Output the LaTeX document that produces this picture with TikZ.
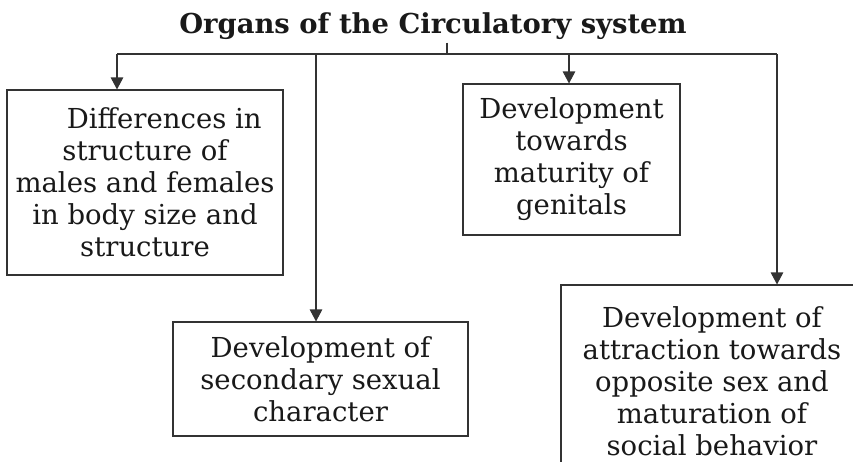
\documentclass[tikz,border=0pt]{standalone}
\usepackage{fontspec}
\setmainfont{DejaVu Serif}
\usetikzlibrary{arrows.meta}
\usetikzlibrary{calc}

\begin{document}
\begin{tikzpicture}[x=1pt, y=-1pt,
  box/.style={draw=black!80, line width=1.1pt, align=center, text=black!90, inner sep=0pt, font=\fontsize{27.5}{32}\selectfont},
  link/.style={draw=black!80, line width=1.1pt},
  arrowlink/.style={link, -{Triangle[length=12pt, width=12.5pt]}}]

\clip (0, 0) rectangle (853, 461);

\node[anchor=base, text=black!90, font=\bfseries\fontsize{27.4}{30}\selectfont] (title) at (433, 33) {Organs of the Circulatory system};

\node[box, minimum width=276pt, minimum height=185pt] (diff) at (145, 182.5) {\hspace*{1.4em}Differences in\\ structure of\\ males and females\\ in body size and\\ structure};
\node[box, minimum width=217pt, minimum height=151pt] (genit) at (571.5, 159.5) {Development\\ towards\\ maturity of\\ genitals};
\node[box, minimum width=295pt, minimum height=114pt] (second) at (320.5, 379) {Development of\\ secondary sexual\\ character};
\node[box, minimum width=302pt, minimum height=192pt] (attract) at (712, 381) {Development of\\ attraction towards\\ opposite sex and\\ maturation of\\ social behavior};

\coordinate (hub) at (447, 54);
\coordinate (lcorner) at (117, 54);
\coordinate (mdrop) at (316, 54);
\coordinate (gdrop) at (569, 54);
\coordinate (rcorner) at (777, 54);

\draw[link] (title.south -| hub) -- (hub);
\draw[link] (lcorner) -- (rcorner);
\draw[arrowlink] (lcorner) -- (lcorner |- diff.north);
\draw[arrowlink] (mdrop) -- (mdrop |- second.north);
\draw[arrowlink] (gdrop) -- (gdrop |- genit.north);
\draw[arrowlink] (rcorner) -- (rcorner |- attract.north);

\end{tikzpicture}
\end{document}
